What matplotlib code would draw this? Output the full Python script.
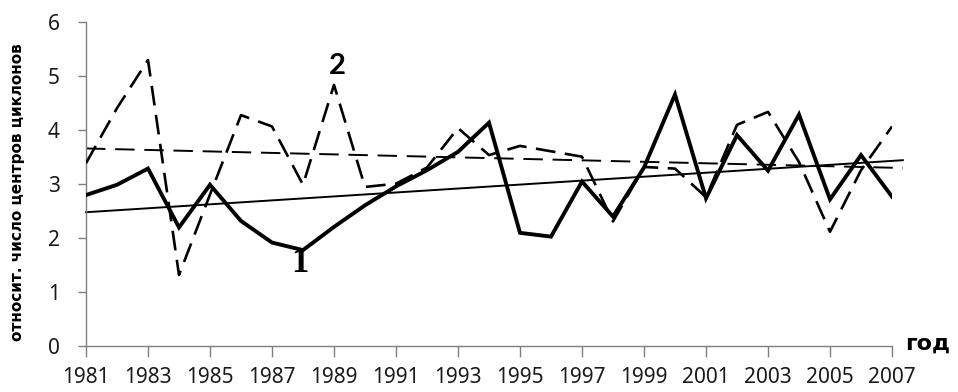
import numpy as np
import matplotlib
matplotlib.use("Agg")
import matplotlib.pyplot as plt

years = list(range(1981, 2008))
series1 = [2.79, 2.98, 3.28, 2.19, 2.98, 2.31, 1.91, 1.77, 2.2, 2.6,
           2.95, 3.25, 3.59, 4.13, 2.09, 2.02, 3.04, 2.39, 3.3, 4.65,
           2.73, 3.9, 3.24, 4.28, 2.71, 3.53, 2.76]
series2 = [3.38, 4.4, 5.29, 1.31, 2.8, 4.27, 4.06, 2.98, 4.83, 2.94,
           3.0, 3.3, 4.03, 3.53, 3.7, 3.6, 3.5, 2.3, 3.31, 3.28,
           2.75, 4.09, 4.33, 3.4, 2.11, 3.25, 4.06]
xtick_labels = [str(y) for y in range(1981, 2008, 2)]
yticks = [0, 1, 2, 3, 4, 5, 6]

fig = plt.figure(figsize=(9.58, 3.92), dpi=100)
ax = fig.add_axes([86/958, (392-345.7)/392, (892-86)/958, (345.7-21.7)/392])

x = np.array(years, dtype=float)
ax.plot(x, series1, color='black', lw=2.8, solid_joinstyle='miter', zorder=4)
ax.plot(x, series2, color='black', lw=1.9, dashes=(7.5, 3.6), zorder=3)

# linear trends (least squares)
xt = np.array([1981, 2007.35])
for s, ls in ((series1, '-'), (series2, '--')):
    k, b = np.polyfit(x, s, 1)
    if ls == '-':
        ax.plot(xt, k*xt + b, color='black', lw=1.4, clip_on=False, zorder=2)
    else:
        ax.plot(xt, k*xt + b, color='black', lw=1.4, dashes=(10, 5), clip_on=False, zorder=2)

ax.set_xlim(1981, 2007)
ax.set_ylim(0, 6)
ax.set_xticks(range(1981, 2008, 2))
ax.set_xticklabels(xtick_labels, family='Noto Sans', fontsize=15)
ax.set_yticks(yticks)
ax.set_yticklabels([str(v) for v in yticks], family='Noto Sans', fontsize=15)
for sp in ('top', 'right'):
    ax.spines[sp].set_visible(False)
for sp in ('left', 'bottom'):
    ax.spines[sp].set_color('#7f7f7f')
    ax.spines[sp].set_linewidth(1.0)
ax.tick_params(axis='x', direction='out', length=8, width=1, color='#7f7f7f',
               labelcolor='#1a1a1a', pad=7)
ax.tick_params(axis='y', direction='out', length=6, width=1, color='#7f7f7f',
               labelcolor='#1a1a1a', pad=13)

fig.text(18/958, 1 - 192/392, 'относит. число центров циклонов', rotation=90,
         ha='center', va='center', fontsize=11, fontweight='bold',
         family='DejaVu Sans')
fig.text(928/958, 1 - 344/392, 'год', ha='center', va='center', fontsize=16,
         fontweight='bold', family='DejaVu Sans')
fig.text(300/958, 1 - 264/392, '1', ha='center', va='center', fontsize=25,
         fontweight='bold', family='Liberation Serif')
fig.text(337/958, 1 - 66/392, '2', ha='center', va='center', fontsize=21,
         fontweight='bold', family='Lato')

fig.savefig('out.png', dpi=100)
